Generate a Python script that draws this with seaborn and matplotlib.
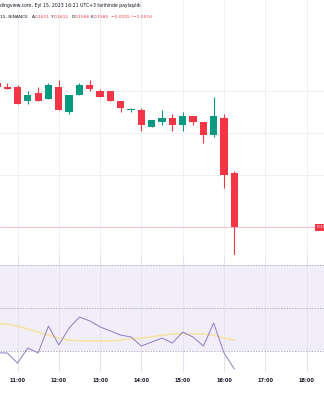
import matplotlib
matplotlib.use("Agg")
import matplotlib.pyplot as plt
import seaborn as sns
import pandas as pd

# ---- data ----
times = ["10:30", "10:45", "11:00", "11:15", "11:30", "11:45", "12:00", "12:15",
         "12:30", "12:45", "13:00", "13:15", "13:30", "13:45", "14:00", "14:15",
         "14:30", "14:45", "15:00", "15:15", "15:30", "15:45", "16:00", "16:15"]
opens = [0.1654, 0.1652, 0.1652, 0.1645, 0.1649, 0.1646, 0.1652, 0.1640,
         0.1648, 0.1653, 0.1650, 0.1650, 0.1645, 0.1641, 0.1641, 0.1633,
         0.1635, 0.1637, 0.1634, 0.1638, 0.1635, 0.1629, 0.1637, 0.1611]
highs = [0.1655, 0.1654, 0.1653, 0.1650, 0.1652, 0.1654, 0.1655, 0.1648,
         0.1654, 0.1655, 0.1651, 0.1650, 0.1645, 0.1642, 0.1642, 0.1636,
         0.1641, 0.1639, 0.1640, 0.1638, 0.1635, 0.1647, 0.1639, 0.1612]
lows = [0.1651, 0.1651, 0.1644, 0.1644, 0.1645, 0.1646, 0.1641, 0.1639,
        0.1648, 0.1650, 0.1647, 0.1645, 0.1640, 0.1640, 0.1631, 0.1633,
        0.1634, 0.1631, 0.1631, 0.1634, 0.1625, 0.1628, 0.1604, 0.1566]
closes = [0.1652, 0.1651, 0.1644, 0.1648, 0.1645, 0.1653, 0.1641, 0.1648,
          0.1653, 0.1651, 0.1647, 0.1645, 0.1642, 0.1641, 0.1634, 0.1636,
          0.1637, 0.1634, 0.1638, 0.1635, 0.1629, 0.1638, 0.1610, 0.1585]
rsi = [29.1, 29.1, 24.4, 31.4, 29.1, 41.6, 32.8, 40.7, 45.8, 44.0, 41.2, 39.3,
       37.4, 36.5, 32.3, 34.2, 36.0, 33.7, 38.8, 36.5, 32.3, 43.0, 29.1, 21.6]
rsi_ma = [42.6, 42.6, 41.6, 40.2, 38.8, 37.4, 36.0, 35.1, 34.7, 34.7, 34.7, 34.7,
          35.1, 35.6, 36.0, 36.5, 37.4, 37.9, 37.9, 37.9, 37.9, 37.4, 36.0, 35.1]
hour_ticks = ["11:00", "12:00", "13:00", "14:00", "15:00", "16:00", "17:00", "18:00"]
price_grid = [0.161, 0.163, 0.165]
last_price = 0.1585
last_label = "0.1585"
header1 = "dingview.com, Eyl 15, 2023 16:21 UTC+3 tarihinde paylaşıldı"
header2_texts = ["15, BINANCE", "A", "0.1611", "Y", "0.1612", "D", "0.1566",
                 "K", "0.1585", "−0.0025 (−1.55%)"]
header2_colors = ["#131722", "#131722", "#f23645", "#131722", "#f23645", "#131722",
                  "#f23645", "#131722", "#f23645", "#f23645"]
header2_x = [0, 31.0, 34.2, 50.2, 53.0, 70.8, 74.3, 90.4, 93.4, 110.5]

# ---- helpers ----
def to_hour(t):
    h, m = t.split(":")
    return int(h) + int(m) / 60.0

df = pd.DataFrame({"t": [to_hour(t) for t in times], "open": opens, "high": highs,
                   "low": lows, "close": closes, "rsi": rsi, "rsi_ma": rsi_ma})
df["up"] = df["close"] >= df["open"]

W, H = 324, 400
sns.set_theme(style="white")
plt.rcParams["font.family"] = ["DejaVu Sans"]
fig = plt.figure(figsize=(W / 100, H / 100), dpi=100)
fig.patch.set_facecolor("white")

x0 = 11 - 17.5 / 41.3
x1 = 11 + (W - 17.5) / 41.3

def axes_px(top, bottom):
    return fig.add_axes([0, 1 - bottom / H, 1, (bottom - top) / H])

GREEN = "#089981"
RED = "#f23645"
GRID = "#eef0f5"

axp = axes_px(0, 255)
axr = axes_px(255, 372)
for ax in (axp, axr):
    ax.set_xlim(x0, x1)
    for s in ax.spines.values():
        s.set_visible(False)
    ax.set_facecolor("none")
    ax.tick_params(left=False, bottom=False, labelleft=False, labelbottom=False)
    for h in range(11, 19):
        ax.axvline(h, color=GRID, lw=0.7, zorder=0)

# price pane
axp.set_ylim(0.161 - 80 / 21000, 0.161 + 175 / 21000)
for g in price_grid:
    axp.axhline(g, color=GRID, lw=0.7, zorder=0)

colors = [GREEN if u else RED for u in df["up"]]
body_w = 7.3 / 41.3
bottoms = df[["open", "close"]].min(axis=1)
heights = (df["close"] - df["open"]).abs().clip(lower=1 / 21000)
axp.vlines(df["t"], df["low"], df["high"], colors=colors, lw=0.8, zorder=2)
axp.bar(df["t"], heights, bottom=bottoms, width=body_w, color=colors, lw=0, zorder=3)

axp.axhline(last_price, color=RED, lw=0.6, alpha=0.35, zorder=1)
axp.text(x0 + 316.5 / 41.3, last_price, last_label, ha="left", va="center", fontsize=3.2,
         color="white", zorder=5,
         bbox=dict(boxstyle="square,pad=0.35", fc=RED, ec="none"))

# RSI pane
axr.set_ylim(30 - 21 / 2.15, 70 + 10 / 2.15)
axr.axhspan(30, 70, color="#f2eef9", lw=0, zorder=0)
for h in range(11, 19):
    axr.axvline(h, color="#e6e2ef", lw=0.7, zorder=0.5)
for lvl in (70, 50, 30):
    axr.axhline(lvl, color="#9598a1", lw=0.5, ls=(0, (2, 2)), zorder=1)
sns.lineplot(data=df, x="t", y="rsi_ma", ax=axr, color="#f5e3a4", lw=1.3, alpha=0.9, zorder=2)
sns.lineplot(data=df, x="t", y="rsi", ax=axr, color="#8f7ac8", lw=0.7, zorder=3)
axr.set_xlabel("")
axr.set_ylabel("")
axr.tick_params(left=False, bottom=False, labelleft=False, labelbottom=False)

# time axis labels
for i, lab in enumerate(hour_ticks):
    xpx = 17.5 + i * 41.3
    fig.text(xpx / W, 1 - 380 / H, lab, ha="center", va="center", fontsize=3.6,
             color="#131722", fontweight="bold")

# header
fig.text(0.5 / W, 1 - 6 / H, header1, ha="left", va="center", fontsize=3.3, color="#131722")
for txt, col, xp in zip(header2_texts, header2_colors, header2_x):
    fig.text((xp + 0.5) / W, 1 - 17 / H, txt, ha="left", va="center", fontsize=3.15, color=col)

fig.savefig("out.png", dpi=100, facecolor="white")
